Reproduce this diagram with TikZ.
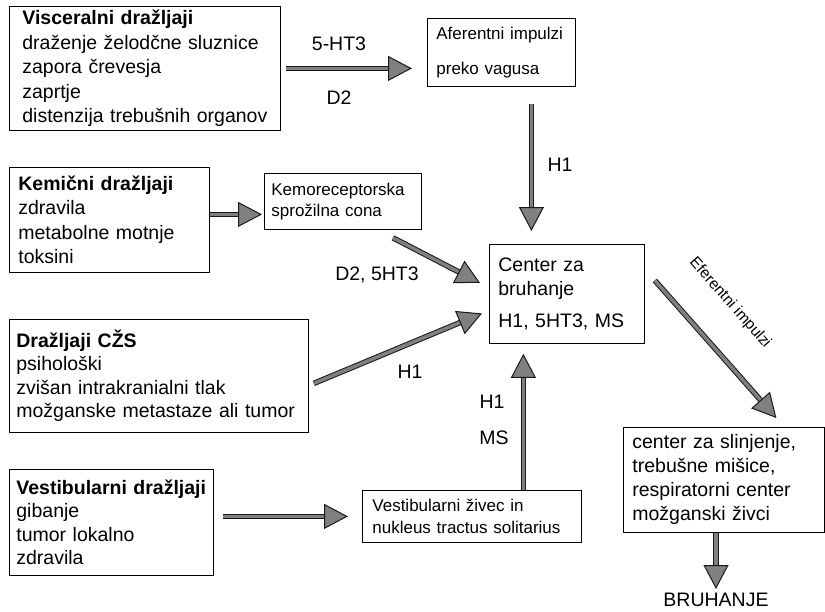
\documentclass[tikz,border=0pt]{standalone}
\usepackage{fontspec}
\setmainfont{Liberation Sans}
\usetikzlibrary{arrows.meta}

\begin{document}
\begin{tikzpicture}[x=1pt, y=-1pt,
	box/.style={draw=black, line width=0.8pt, anchor=north west, align=left, inner xsep=2pt, inner ysep=0pt, font=\fontsize{19.5}{24.5}\selectfont},
	pad/.style={execute at begin node={\leftskip=#1}},
	smallbox/.style={box, font=\fontsize{17}{21.5}\selectfont},
	lbl/.style={inner sep=0pt, font=\fontsize{19.5}{24}\selectfont},
	flow/.style={draw=black!90, line width=1pt, double=black!50, double distance=3.5pt, -{Triangle[length=24pt, width=25pt, line width=1pt, fill=black!50]}}]

		\useasboundingbox (0,0) rectangle (825,611);

		\node[box, pad=11pt, text width=267pt, minimum height=124pt] (visc) at (9,6) {\textbf{Visceralni dražljaji}\\draženje želodčne sluznice\\zapora črevesja\\zaprtje\\distenzija trebušnih organov};
		\node[box, pad=7pt, text width=196pt, minimum height=105pt] (kem) at (9,167) {\textbf{Kemični dražljaji}\\zdravila\\metabolne motnje\\toksini};
		\node[box, pad=5pt, text width=295pt, minimum height=113pt, font=\fontsize{19.5}{23.5}\selectfont] (czs) at (9,319) {\textbf{Dražljaji CŽS}\\psihološki\\zvišan intrakranialni tlak\\možganske metastaze ali tumor};
		\node[box, pad=5pt, text width=200pt, minimum height=106pt, font=\fontsize{19.5}{23.5}\selectfont] (vest) at (9,469) {\textbf{Vestibularni dražljaji}\\gibanje\\tumor lokalno\\zdravila};

		\node[smallbox, pad=7pt, text width=144pt, minimum height=68pt] (aff) at (427,18) {Aferentni impulzi\\[13pt]preko vagusa};
		\node[smallbox, pad=5pt, text width=153pt, minimum height=56pt] (kemo) at (264,173) {Kemoreceptorska\\sprožilna cona};
		\node[smallbox, pad=8pt, text width=215pt, minimum height=52pt] (vestz) at (362,490) {Vestibularni živec in\\nukleus tractus solitarius};

		\node[box, pad=7pt, text width=151pt, minimum height=99pt] (ctr) at (489,244) {Center za\\bruhanje\\[7pt]H1, 5HT3, MS};
		\node[box, pad=7pt, text width=197pt, minimum height=105pt, font=\fontsize{19.5}{24}\selectfont] (out) at (623,427) {center za slinjenje,\\trebušne mišice,\\respiratorni center\\možganski živci};
		\node[lbl] (bru) at (716,600) {BRUHANJE};

		\node[lbl] (l1) at (339,44) {5-HT3};
		\node[lbl] (l2) at (339,98) {D2};
		\node[lbl] (l3) at (560,165) {H1};
		\node[lbl] (l4) at (377,275) {D2, 5HT3};
		\node[lbl] (l5) at (410,372) {H1};
		\node[lbl] (l6) at (492,402) {H1};
		\node[lbl] (l7) at (494,438) {MS};
		\node[lbl, font=\fontsize{15.5}{18}\selectfont, rotate=-48.5] (l8) at (730,303) {Eferentni impulzi};

		\draw[flow, shorten <=5pt, shorten >=15pt] (visc.east) -- (visc.east -| aff.west);
		\draw[flow, shorten <=17pt, shorten >=13pt] ([xshift=30pt]aff.south) -- ([xshift=-35.5pt]ctr.north);
		\draw[flow, shorten >=2pt] ([yshift=5.5pt]kem.east) -- ([yshift=-13pt]kemo.west);
		\draw[flow] ([shift={(50,8)}]kemo.south) -- ([shift={(-9,-11)}]ctr.west);
		\draw[flow] ([shift={(5,7.5)}]czs.east) -- ([shift={(-7,19.5)}]ctr.west);
		\draw[flow, shorten <=9pt, shorten >=14pt] (vest.east |- vestz.west) -- (vestz.west);
		\draw[flow, shorten >=10pt] ([xshift=51.5pt]vestz.north) -- ([xshift=-43.5pt]ctr.south);
		\draw[flow] ([shift={(10,-13.5)}]ctr.east) -- ([shift={(52.5,-9)}]out.north);
		\draw[flow, shorten >=4pt] (out.south -| bru.north) -- (bru.north);

	\end{tikzpicture}
\end{document}
